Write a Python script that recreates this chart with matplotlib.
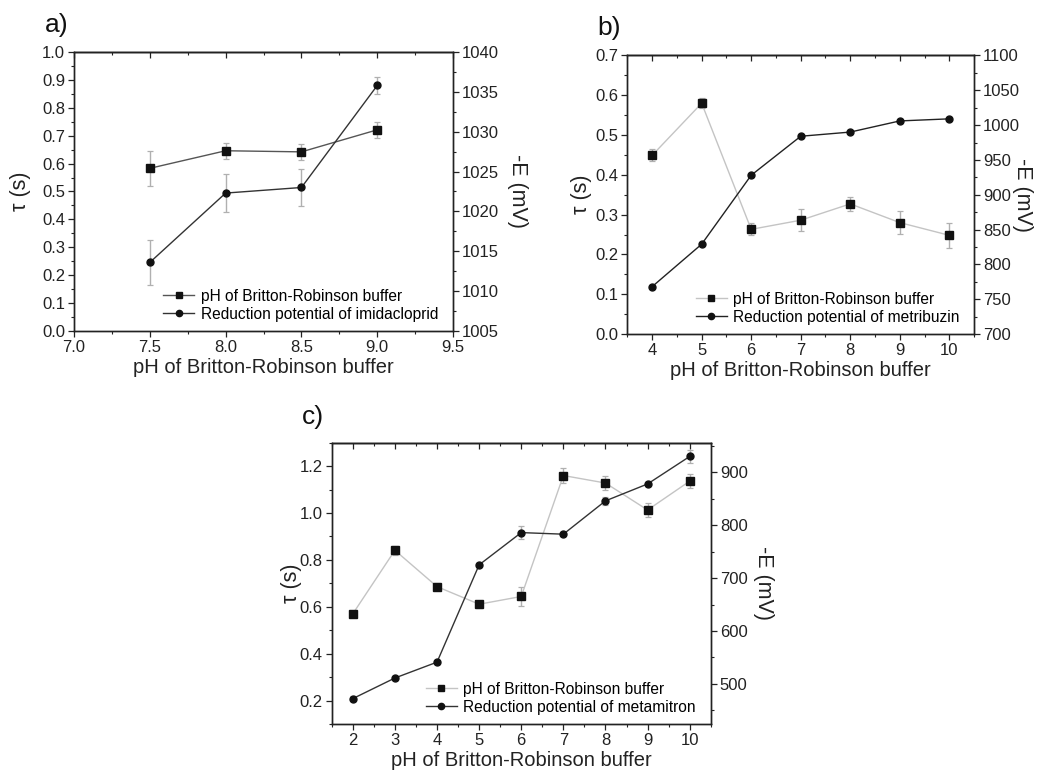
import matplotlib
matplotlib.use("Agg")
import matplotlib.pyplot as plt
from matplotlib.ticker import MultipleLocator

plt.rcParams['font.family'] = ['Liberation Sans', 'DejaVu Sans']

# ---------------- data ----------------
# panel a: imidacloprid
ph_a = [7.5, 8.0, 8.5, 9.0]
tau_a = [0.583, 0.646, 0.642, 0.721]
tau_err_a = [0.062, 0.028, 0.028, 0.028]
E_a = [1013.6, 1022.3, 1023.0, 1035.8]
E_err_a = [2.8, 2.4, 2.3, 1.1]

# panel b: metribuzin
ph_b = [4, 5, 6, 7, 8, 9, 10]
tau_b = [0.449, 0.580, 0.263, 0.286, 0.327, 0.280, 0.248]
tau_err_b = [0.015, 0.013, 0.015, 0.027, 0.017, 0.028, 0.031]
E_b = [768, 829, 928, 984, 990, 1006, 1009]
E_err_b = [1, 1, 1, 1, 1, 1, 1]

# panel c: metamitron
ph_c = [2, 3, 4, 5, 6, 7, 8, 9, 10]
tau_c = [0.570, 0.841, 0.686, 0.611, 0.644, 1.160, 1.128, 1.013, 1.136]
tau_err_c = [0.005, 0.02, 0.015, 0.015, 0.04, 0.03, 0.03, 0.03, 0.03]
E_c = [472, 511, 541, 725, 786, 783, 846, 878, 930]
E_err_c = [5, 3, 3, 4, 13, 3, 8, 3, 13]

xlabel = "pH of Britton-Robinson buffer"
leg_sq = "pH of Britton-Robinson buffer"
leg_ci = ["Reduction potential of imidacloprid",
          "Reduction potential of metribuzin",
          "Reduction potential of metamitron"]

fig = plt.figure(figsize=(10.37, 7.76), dpi=100)

TICK_FS = 12
LAB_FS = 14.5
PAN_FS = 19
LEG_FS = 11.2
INK = '#222222'


def style_axes(ax, ax2, xmaj, xmin, ymaj, ymin, y2maj, y2min):
    ax.xaxis.set_major_locator(MultipleLocator(xmaj))
    ax.xaxis.set_minor_locator(MultipleLocator(xmin))
    ax.yaxis.set_major_locator(MultipleLocator(ymaj))
    ax.yaxis.set_minor_locator(MultipleLocator(ymin))
    ax2.yaxis.set_major_locator(MultipleLocator(y2maj))
    ax2.yaxis.set_minor_locator(MultipleLocator(y2min))
    ax.tick_params(axis='both', which='major', direction='out', length=4,
                   width=0.9, labelsize=TICK_FS, colors=INK, pad=2.5)
    ax.tick_params(axis='both', which='minor', direction='out', length=2.5,
                   width=0.8, colors=INK)
    ax.tick_params(axis='x', which='both', top=False)
    ax2.tick_params(axis='y', which='major', direction='out', length=4,
                    width=0.9, labelsize=TICK_FS, colors=INK, pad=2.5)
    ax2.tick_params(axis='y', which='minor', direction='out', length=2.5,
                    width=0.8, colors=INK)
    for a in (ax, ax2):
        for s in a.spines.values():
            s.set_linewidth(1.0)
            s.set_color(INK)


def top_in_ticks(ax):
    # inward ticks on the top spine
    sec = ax.secondary_xaxis('top')
    sec.xaxis.set_major_locator(ax.xaxis.get_major_locator())
    sec.xaxis.set_minor_locator(ax.xaxis.get_minor_locator())
    sec.tick_params(which='major', direction='in', length=4, width=0.9,
                    labeltop=False, colors=INK)
    sec.tick_params(which='minor', direction='in', length=2.5, width=0.8,
                    colors=INK)
    sec.spines['top'].set_linewidth(1.0)
    sec.spines['top'].set_color(INK)


def panel(rect, x, tau, tau_err, E, E_err, xlim, ylim, y2lim, ticks,
          sq_color, ci_color, circ_label, letter, letter_pos,
          leg_bbox, lab_x, lab2_x):
    ax = fig.add_axes(rect)
    ax2 = ax.twinx()
    ax.errorbar(x, tau, yerr=tau_err, color=sq_color, ecolor='#b0b0b0',
                elinewidth=1.0, capsize=2.5, capthick=0.9, marker='s',
                markersize=5.5, markerfacecolor='#111111',
                markeredgecolor='#111111', lw=1.0, zorder=3)
    ax2.errorbar(x, E, yerr=E_err, color=ci_color, ecolor='#b0b0b0',
                 elinewidth=1.0, capsize=2.5, capthick=0.9, marker='o',
                 markersize=5, markerfacecolor='#111111',
                 markeredgecolor='#111111', lw=1.0, zorder=3)
    ax.set_xlim(*xlim)
    ax.set_ylim(*ylim)
    ax2.set_ylim(*y2lim)
    style_axes(ax, ax2, *ticks)
    top_in_ticks(ax)
    ax.set_xlabel(xlabel, fontsize=LAB_FS, color=INK, labelpad=2)
    ax.set_ylabel("τ (s)", fontsize=LAB_FS + 1, color=INK)
    ax.yaxis.set_label_coords(lab_x, 0.5)
    ax.yaxis.label.set_va('center')
    ax.yaxis.label.set_ha('center')
    ax.yaxis.label.set_rotation_mode('default')
    ax2.set_ylabel("-E (mV)", fontsize=LAB_FS + 1, color=INK, rotation=270)
    ax2.yaxis.set_label_coords(lab2_x, 0.5)
    ax2.yaxis.label.set_va('center')
    ax2.yaxis.label.set_ha('center')
    ax2.yaxis.label.set_rotation_mode('default')
    h1 = plt.Line2D([], [], color=sq_color, lw=1.0, marker='s',
                    markersize=4.5, markerfacecolor='#111111',
                    markeredgecolor='#111111')
    h2 = plt.Line2D([], [], color=ci_color, lw=1.0, marker='o',
                    markersize=4.5, markerfacecolor='#111111',
                    markeredgecolor='#111111')
    ax2.legend([h1, h2], [leg_sq, circ_label], loc='lower right',
               bbox_to_anchor=leg_bbox, frameon=False, fontsize=LEG_FS,
               handlelength=2.0, handletextpad=0.4, labelspacing=0.2,
               borderaxespad=0.2)
    fig.text(letter_pos[0], letter_pos[1], letter, fontsize=PAN_FS,
             color='#111111', ha='left', va='bottom')
    return ax, ax2


panel([0.0714, 0.5735, 0.3655, 0.3595], ph_a, tau_a, tau_err_a, E_a, E_err_a,
      (7.0, 9.5), (0.0, 1.0), (1005, 1040),
      (0.5, 0.25, 0.1, 0.05, 5, 2.5),
      '#555555', '#333333', leg_ci[0], 'a)', (0.043, 0.952),
      (0.985, 0.0), -0.1425, 1.169)

panel([0.605, 0.5696, 0.3343, 0.3589], ph_b, tau_b, tau_err_b, E_b, E_err_b,
      (3.5, 10.5), (0.0, 0.7), (700, 1100),
      (1, 0.5, 0.1, 0.05, 50, 25),
      '#c4c4c4', '#222222', leg_ci[1], 'b)', (0.576, 0.948),
      (0.985, 0.0), -0.131, 1.141)

panel([0.3199, 0.0670, 0.3655, 0.3625], ph_c, tau_c, tau_err_c, E_c, E_err_c,
      (1.5, 10.5), (0.1, 1.3), (424, 956),
      (1, 0.5, 0.2, 0.1, 100, 50),
      '#c4c4c4', '#333333', leg_ci[2], 'c)', (0.291, 0.447),
      (0.985, 0.0), -0.107, 1.14)

fig.savefig("out.png", dpi=100, facecolor='white')
